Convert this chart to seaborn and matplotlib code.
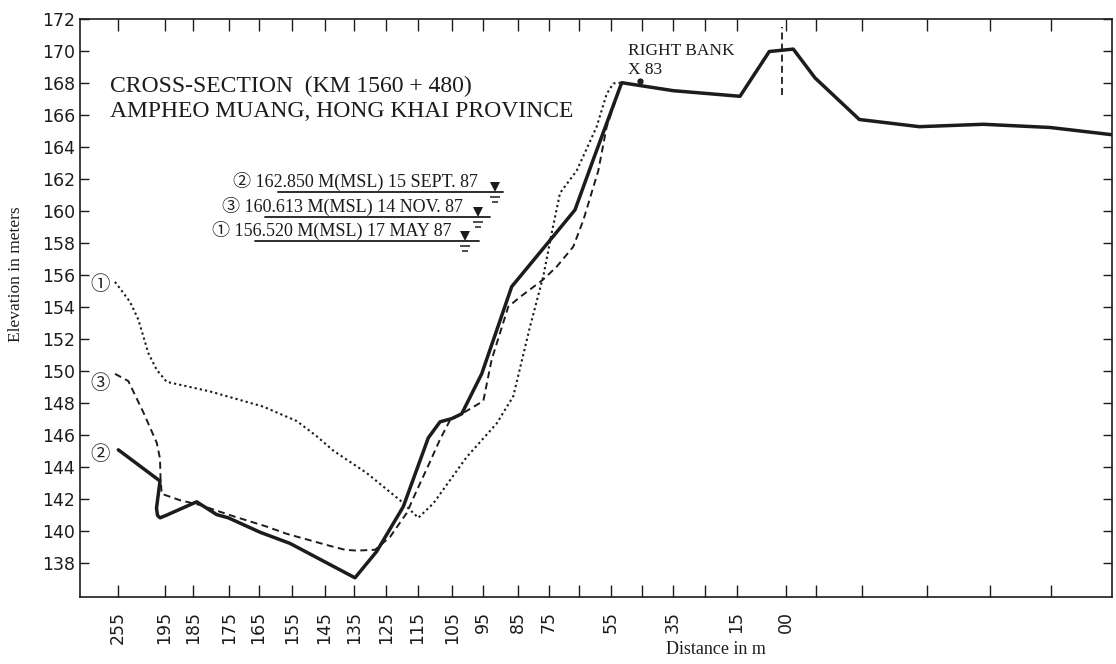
import matplotlib
matplotlib.use("Agg")
import matplotlib.pyplot as plt
import seaborn as sns
import pandas as pd

# ---------------- data (x = position along the drawn section, drawing units) -------------
tick_pos = [38, 84.6, 113, 149, 178.6, 212, 244.6, 274, 306, 337.5, 372, 403, 437.5,
            469, 499, 531, 562, 593, 625, 656.6, 705.5, 736, 782, 847, 910, 971]
tick_labels = ["255", "195", "185", "175", "165", "155", "145", "135", "125", "115",
               "105", "95", "85", "75", "", "55", "", "35", "", "15", "00",
               "", "", "", "", ""]
y_ticks = list(range(138, 173, 2))

# Survey (2) 15 SEPT 87 - solid
x_sept = [38.3, 80, 76.5, 77.5, 80, 86, 116.7, 136.7, 148.3, 180, 210, 275, 296.7, 323.3,
          348.3, 360, 371.7, 381.7, 401.7, 431.7, 473.3, 495, 513.3, 541.7, 593.3, 660,
          689.3, 713.3, 735, 779.3, 839.3, 903.3, 970, 1031.7]
z_sept = [145.05, 143.1, 141.4, 140.95, 140.8, 140.95, 141.8, 141.0, 140.8, 139.9, 139.2,
          137.05, 138.7, 141.5, 145.8, 146.8, 147.0, 147.3, 149.8, 155.25, 158.4, 160.05,
          163.2, 168.0, 167.5, 167.15, 169.95, 170.1, 168.3, 165.7, 165.25, 165.4, 165.2,
          164.75]

# Survey (3) 14 NOV 87 - dashed
x_nov = [35, 48.3, 63.3, 76.7, 80, 80.5, 81.7, 100, 120, 153.3, 186.7, 206.7, 246.7, 265,
         276.7, 295, 310, 326.7, 336.7, 350, 360, 370, 381.7, 403.3, 411.7, 428.3, 440,
         463.3, 476.7, 493.3, 503.3, 518.3, 526.7, 536.7, 541.7]
z_nov = [149.8, 149.35, 147.4, 145.5, 144.5, 143.3, 142.3, 141.9, 141.6, 140.9, 140.25,
         139.8, 139.1, 138.8, 138.75, 138.8, 139.6, 141.1, 142.5, 144.3, 145.7, 146.9,
         147.3, 148.1, 150.7, 154.0, 154.6, 155.7, 156.5, 157.75, 159.4, 162.5, 165.25,
         167.1, 167.95]

# Survey (1) 17 MAY 87 - dotted
x_may = [35, 50, 58.3, 68.3, 76.7, 86.7, 130, 183.3, 216.7, 236.7, 253.3, 286.7, 320,
         338.3, 353.3, 386.7, 416.7, 433.3, 450, 463.3, 471.7, 480, 496.7, 516.7, 526.7,
         533.3, 540]
z_may = [155.55, 154.3, 153.2, 151.1, 150.05, 149.3, 148.7, 147.75, 146.85, 145.9, 145.0,
         143.6, 141.9, 140.8, 141.7, 144.6, 146.7, 148.4, 152.75, 155.9, 158.6, 161.1,
         162.5, 165.25, 167.3, 167.95, 168.0]

# Water level notes
wl_labels = ["\u2461 162.850 M(MSL) 15 SEPT. 87",
             "\u2462 160.613 M(MSL) 14 NOV. 87",
             "\u2460 156.520 M(MSL) 17 MAY 87"]
wl_elev_drawn = [161.19, 159.61, 158.11]

# Right bank marker
bank_x = [560]
bank_z = [168.1]
crest_x = 702
crest_z = [167.2, 171.5]

# ---------------- style ----------------------------------------------------------------
sns.set_style("ticks")
plt.rcParams["font.family"] = ["Liberation Serif", "Noto Sans CJK JP", "DejaVu Sans"]
plt.rcParams["lines.scale_dashes"] = False
ink = "#1c1c1c"

fig = plt.figure(figsize=(11.16, 6.64), dpi=100)
ax = fig.add_axes([80 / 1116, 67 / 664, 1031.7 / 1116, 578.3 / 664])

sns.lineplot(x=x_sept, y=z_sept, sort=False, estimator=None, color=ink,
             linewidth=2.5, ax=ax)
sns.lineplot(x=x_nov, y=z_nov, sort=False, estimator=None, color=ink,
             linewidth=1.4, linestyle=(0, (5, 3.2)), ax=ax)
sns.lineplot(x=x_may, y=z_may, sort=False, estimator=None, color=ink,
             linewidth=1.5, linestyle=(0, (1.6, 2.2)), ax=ax)

ax.plot([crest_x, crest_x], crest_z, color=ink, lw=1.3, linestyle=(0, (5, 3)))
ax.plot(bank_x, bank_z, "o", color=ink, ms=3.5)

ax.set_xlim(0, 1031.7)
ax.set_ylim(135.85, 172.0)
ax.set_xticks(tick_pos)
ax.set_xticklabels(tick_labels, rotation=90)
ax.set_yticks(y_ticks)
ax.set_yticklabels([str(v) for v in y_ticks])

for s in ax.spines.values():
    s.set_visible(True)
    s.set_linewidth(1.2)
    s.set_color(ink)

ax.tick_params(axis="x", which="both", direction="in", top=True, bottom=True,
               length=8.5, width=1.0, pad=10, colors=ink, labelsize=12.5,
               labelfontfamily="Liberation Sans Narrow")
ax.tick_params(axis="y", which="both", direction="in", left=True, right=True,
               length=6.5, width=1.0, pad=3.5, colors=ink, labelsize=12.5,
               labelfontfamily="Liberation Sans Narrow")

ax.set_xlabel("Distance in m", fontsize=13, color=ink)
ax.xaxis.set_label_coords(0.616, -0.076)
ax.set_ylabel("Elevation in meters", fontsize=12.5, color=ink)
ax.yaxis.set_label_coords(-0.054, 0.559)

# Title block
ax.text(30, 167.44, "CROSS-SECTION  (KM 1560 + 480)", fontsize=17, color=ink,
        va="baseline", ha="left")
ax.text(30, 165.875, "AMPHEO MUANG, HONG KHAI PROVINCE", fontsize=17, color=ink,
        va="baseline", ha="left")

ax.text(548, 169.99, "RIGHT BANK", fontsize=12.5, color=ink, va="center", ha="left")
ax.text(548, 168.79, "X 83", fontsize=12.5, color=ink, va="center", ha="left")

# Water level notes
text_x = [153, 141.7, 131.7]
line_x0 = [198.3, 185, 175]
line_x1 = [423.3, 410, 399.3]
sym_x = [415, 398.3, 385]
for lab, z, tx, x0, x1, sx in zip(wl_labels, wl_elev_drawn, text_x, line_x0, line_x1, sym_x):
    ax.text(tx, z + 0.29, lab, fontsize=13, color=ink, va="baseline", ha="left")
    ax.plot([x0, x1], [z, z], color=ink, lw=1.3)
    ax.plot([sx], [z + 0.3], marker="v", color=ink, ms=6.5, mew=0)
    ax.plot([sx], [z - 0.32], marker="_", color=ink, ms=7, mew=1.1)
    ax.plot([sx], [z - 0.62], marker="_", color=ink, ms=5, mew=1.1)

# Series tags at the left edge
for tag, z in zip(["\u2460", "\u2462", "\u2461"], [155.36, 149.2, 144.73]):
    ax.text(20, z, tag, fontsize=14, color=ink, va="center", ha="center")

fig.savefig("out.png", dpi=100)
